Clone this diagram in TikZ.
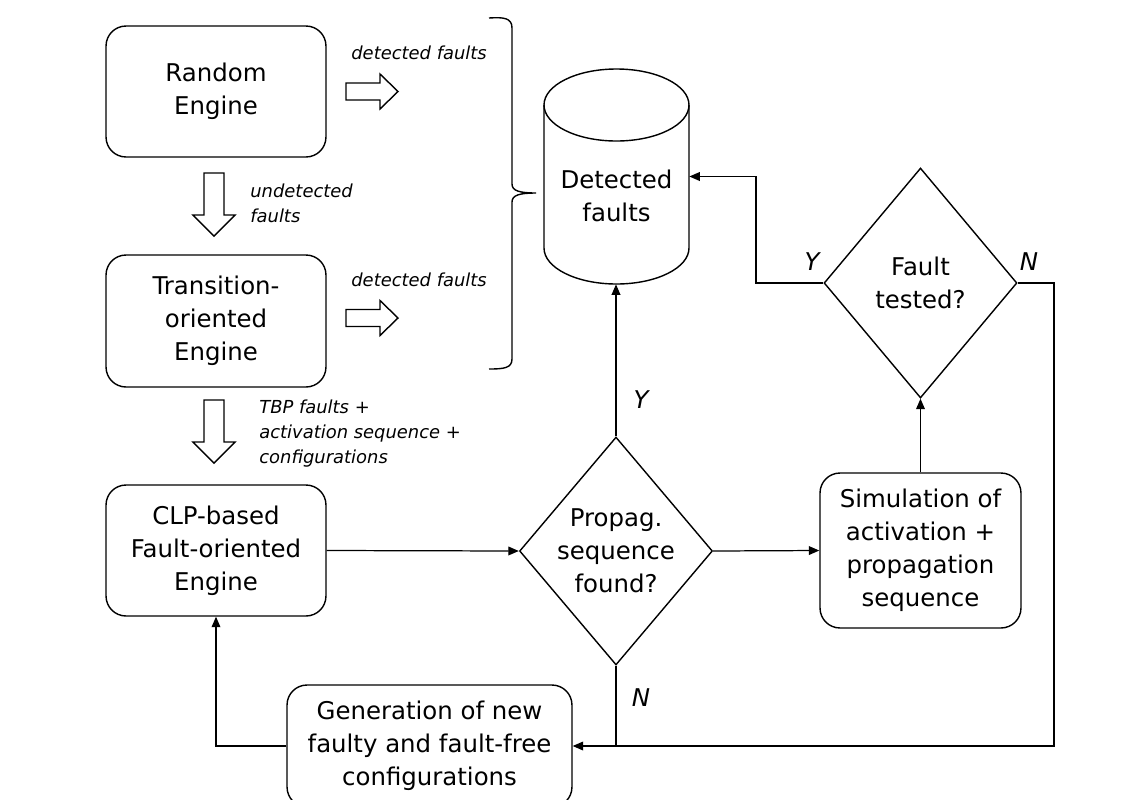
\documentclass[tikz,border=0pt]{standalone}
\usepackage{fontspec}
\setmainfont{DejaVu Sans}
\usetikzlibrary{arrows.meta,shapes.geometric,calc}
\begin{document}
\begin{tikzpicture}[x=0.02cm,y=-0.02cm,
  box/.style={draw,line width=0.8pt,rounded corners=0.4cm,align=center,inner sep=0pt,
    font=\fontsize{13.9pt}{18.8pt}\selectfont},
  dia/.style={draw,line width=0.8pt,diamond,inner sep=0pt},
  txt/.style={align=center,inner sep=0pt,font=\fontsize{13.9pt}{18.8pt}\selectfont},
  lab/.style={align=left,inner sep=0pt,font=\fontsize{10.2pt}{14.2pt}\selectfont\itshape},
  yn/.style={inner sep=0pt,font=\fontsize{13.9pt}{16pt}\selectfont\itshape},
  arr/.style={line width=0.7pt,-{Triangle[length=6pt,width=5pt]}},
  ln/.style={line width=0.7pt},
  blk/.style={draw,line width=0.8pt,fill=white}
]
\useasboundingbox (0,0) rectangle (1140,799);
\clip (0,0) rectangle (1140,799);

% boxes
\node[box,minimum width=4.4cm,minimum height=2.62cm] (rnd) at (216,91.5) {Random\\Engine};
\node[box,minimum width=4.4cm,minimum height=2.64cm] (tr) at (216,321) {Transition-\\oriented\\Engine};
\node[box,minimum width=4.4cm,minimum height=2.62cm] (clp) at (216,550.5) {CLP-based\\Fault-oriented\\Engine};
\node[box,minimum width=5.7cm,minimum height=2.44cm] (gen) at (429.5,746) {Generation of new\\faulty and fault-free\\configurations};
\node[box,minimum width=4.02cm,minimum height=3.1cm] (sim) at (920.5,550.5) {Simulation of\\activation +\\propagation\\sequence};

% diamonds
\node[dia,minimum width=3.86cm,minimum height=4.56cm] (pr) at (616,551) {};
\node[txt] at (pr) {Propag.\\sequence\\found?};
\node[dia,minimum width=3.86cm,minimum height=4.6cm] (ft) at (920.5,283) {};
\node[txt] at (ft) {Fault\\tested?};

% database cylinder
\node[minimum width=2.9cm,minimum height=4.3cm,inner sep=0pt] (db) at (616.5,176.5) {};
\draw[line width=0.8pt] (544,105) -- (544,248) arc[start angle=180,end angle=360,x radius=72.5,y radius=-36] -- (689,105);
\draw[line width=0.8pt] (616.5,105) ellipse[x radius=72.5,y radius=36];
\node[txt] at (616.5,196) {Detected\\faults};

% block arrows
\draw[blk] (346,83) -- (380,83) -- (380,74) -- (398,91.5) -- (380,109) -- (380,100) -- (346,100) -- cycle;
\draw[blk] (346,309.5) -- (380,309.5) -- (380,300.5) -- (398,318) -- (380,335.5) -- (380,326.5) -- (346,326.5) -- cycle;
\draw[blk] (204,173) -- (204,215) -- (193,215) -- (214,236) -- (235,215) -- (224,215) -- (224,173) -- cycle;
\draw[blk] (204,400) -- (204,442) -- (193,442) -- (214,463) -- (235,442) -- (224,442) -- (224,400) -- cycle;

% labels
\node[lab,anchor=west] (l1) at (351,53) {detected faults};
\node[lab,anchor=west] (l2) at (351,280) {detected faults};
\node[lab,anchor=west] (l3) at (250,203.5) {undetected\\faults};
\node[lab,anchor=west] (l4) at (259,433.5) {TBP faults +\\activation sequence +\\configurations};

% brace
\draw[line width=0.8pt] (489,18) .. controls (504,17) and (512,18) .. (512,28) -- (512,184)
  .. controls (512,191) and (520,193) .. (536,193)
  .. controls (520,193) and (512,195) .. (512,202) -- (512,359)
  .. controls (512,368) and (504,369) .. (489,369);

% connectors
\coordinate (k1) at (756,283);
\draw[arr] (ft.west) -- (k1) |- (db.east);
\draw[arr] (pr.north) -- (pr.north |- db.south);
\draw[arr] (clp.east) -- (pr.west);
\draw[arr] (pr.east) -- (sim.west);
\draw[arr] (sim.north) -- (ft.south);
\coordinate (k2) at (1054,283);
\draw[arr] (ft.east) -- (k2) |- (gen.east);
\draw[ln] (pr.south) -- (pr.south |- gen.east);
\draw[arr] (gen.west) -| (clp.south);

% Y/N labels
\node[yn] (y1) at (812,262) {Y};
\node[yn] (n1) at (1029,262) {N};
\node[yn] (y2) at (641,400) {Y};
\node[yn] (n2) at (641,698) {N};
\end{tikzpicture}
\end{document}
